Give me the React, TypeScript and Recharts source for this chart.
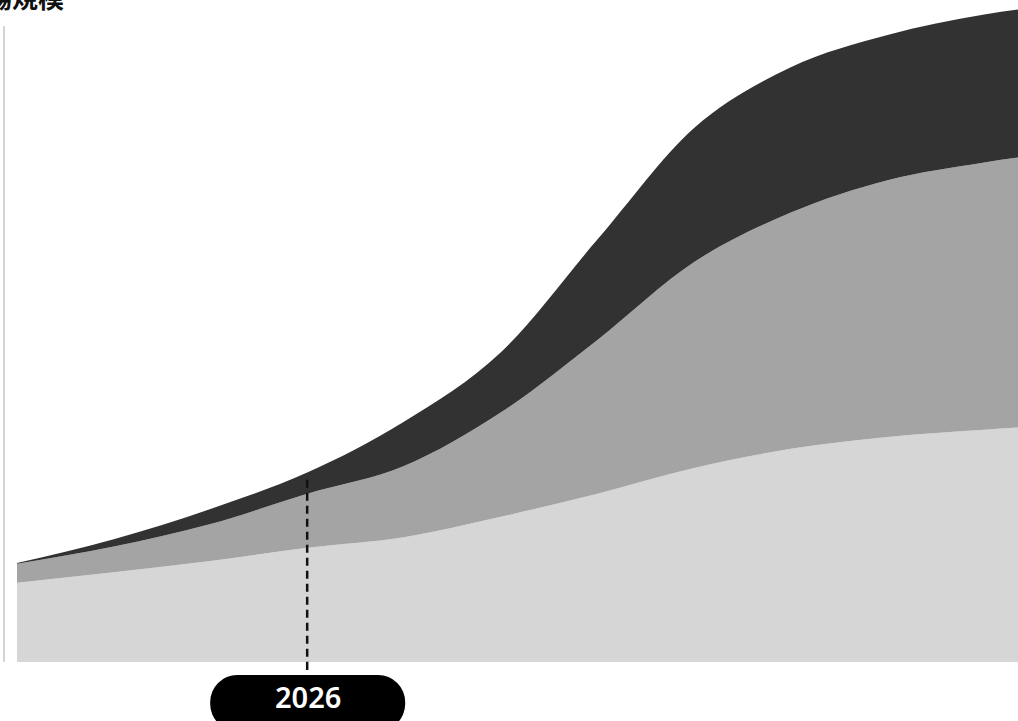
import React from 'react';
import { AreaChart, Area, XAxis, YAxis, ReferenceLine } from 'recharts';

const years = ['2023', '2024', '2025', '2026', '2027', '2028', '2029', '2030', '2031', '2032', '2033', '2034'];
const baseSeries = [12.0, 13.6, 15.3, 17.3, 18.9, 22.0, 25.5, 29.4, 32.3, 34.1, 35.2, 36.1];
const middleSeries = [2.9, 3.9, 5.6, 8.2, 10.8, 15.8, 23.3, 31.2, 35.8, 38.9, 40.5, 41.5];
const topSeries = [0.1, 1.1, 2.3, 3.2, 6.7, 9.1, 15.2, 20.3, 22.0, 22.0, 22.4, 22.3];

const highlightYear = '2026';
const highlightTop = 27.6;
const titleText = '市場規模';

const data = years.map((y, i) => ({
  year: y,
  base: baseSeries[i],
  middle: middleSeries[i],
  top: topSeries[i],
}));

const PillTick = (props: any) => {
  const { x, y, payload } = props;
  return (
    <g>
      <line x1={x} x2={x} y1={y} y2={y + 13} stroke="#111" strokeWidth={2.5} strokeDasharray="8 5" />
      <rect x={x - 97} y={y + 13} width={195} height={56} rx={27} ry={27} fill="#000" />
      <text
        x={x + 1}
        y={y + 46}
        textAnchor="middle"
        fill="#fff"
        fontSize={29}
        fontWeight={600}
        fontFamily="'Noto Sans', Roboto, sans-serif"
      >
        {payload.value}
      </text>
    </g>
  );
};

export default function App() {
  return (
    <div
      style={{
        position: 'fixed',
        left: 0,
        top: 0,
        width: 1018,
        height: 721,
        overflow: 'hidden',
        background: '#fff',
      }}
    >
      <div
        style={{
          position: 'absolute',
          left: -40,
          top: -16,
          fontSize: 26,
          lineHeight: '26px',
          fontWeight: 700,
          fontFamily: "'Noto Sans CJK JP', sans-serif",
          color: '#111',
          whiteSpace: 'nowrap',
        }}
      >
        {titleText}
      </div>
      <div
        style={{
          position: 'absolute',
          left: 3,
          top: 26,
          width: 2,
          height: 636,
          background: '#d4d4d4',
        }}
      />
      <div style={{ position: 'absolute', left: 0, top: 0 }}>
        <AreaChart
          width={1082}
          height={721}
          data={data}
          margin={{ top: 2, right: 1, bottom: 0, left: 17 }}
        >
          <XAxis
            dataKey="year"
            ticks={[highlightYear]}
            interval={0}
            axisLine={false}
            tickLine={false}
            tickSize={0}
            tickMargin={0}
            height={59}
            tick={<PillTick />}
          />
          <YAxis hide domain={[0, 100]} />
          <Area
            type="monotone"
            dataKey="base"
            stackId="1"
            stroke="none"
            fill="#d6d6d6"
            fillOpacity={1}
            isAnimationActive={false}
          />
          <Area
            type="monotone"
            dataKey="middle"
            stackId="1"
            stroke="none"
            fill="#a4a4a4"
            fillOpacity={1}
            isAnimationActive={false}
          />
          <Area
            type="monotone"
            dataKey="top"
            stackId="1"
            stroke="none"
            fill="#323232"
            fillOpacity={1}
            isAnimationActive={false}
          />
          <ReferenceLine
            segment={[
              { x: highlightYear, y: highlightTop },
              { x: highlightYear, y: 0 },
            ]}
            stroke="#111"
            strokeWidth={2.5}
            strokeDasharray="8 5"
          />
        </AreaChart>
      </div>
    </div>
  );
}
